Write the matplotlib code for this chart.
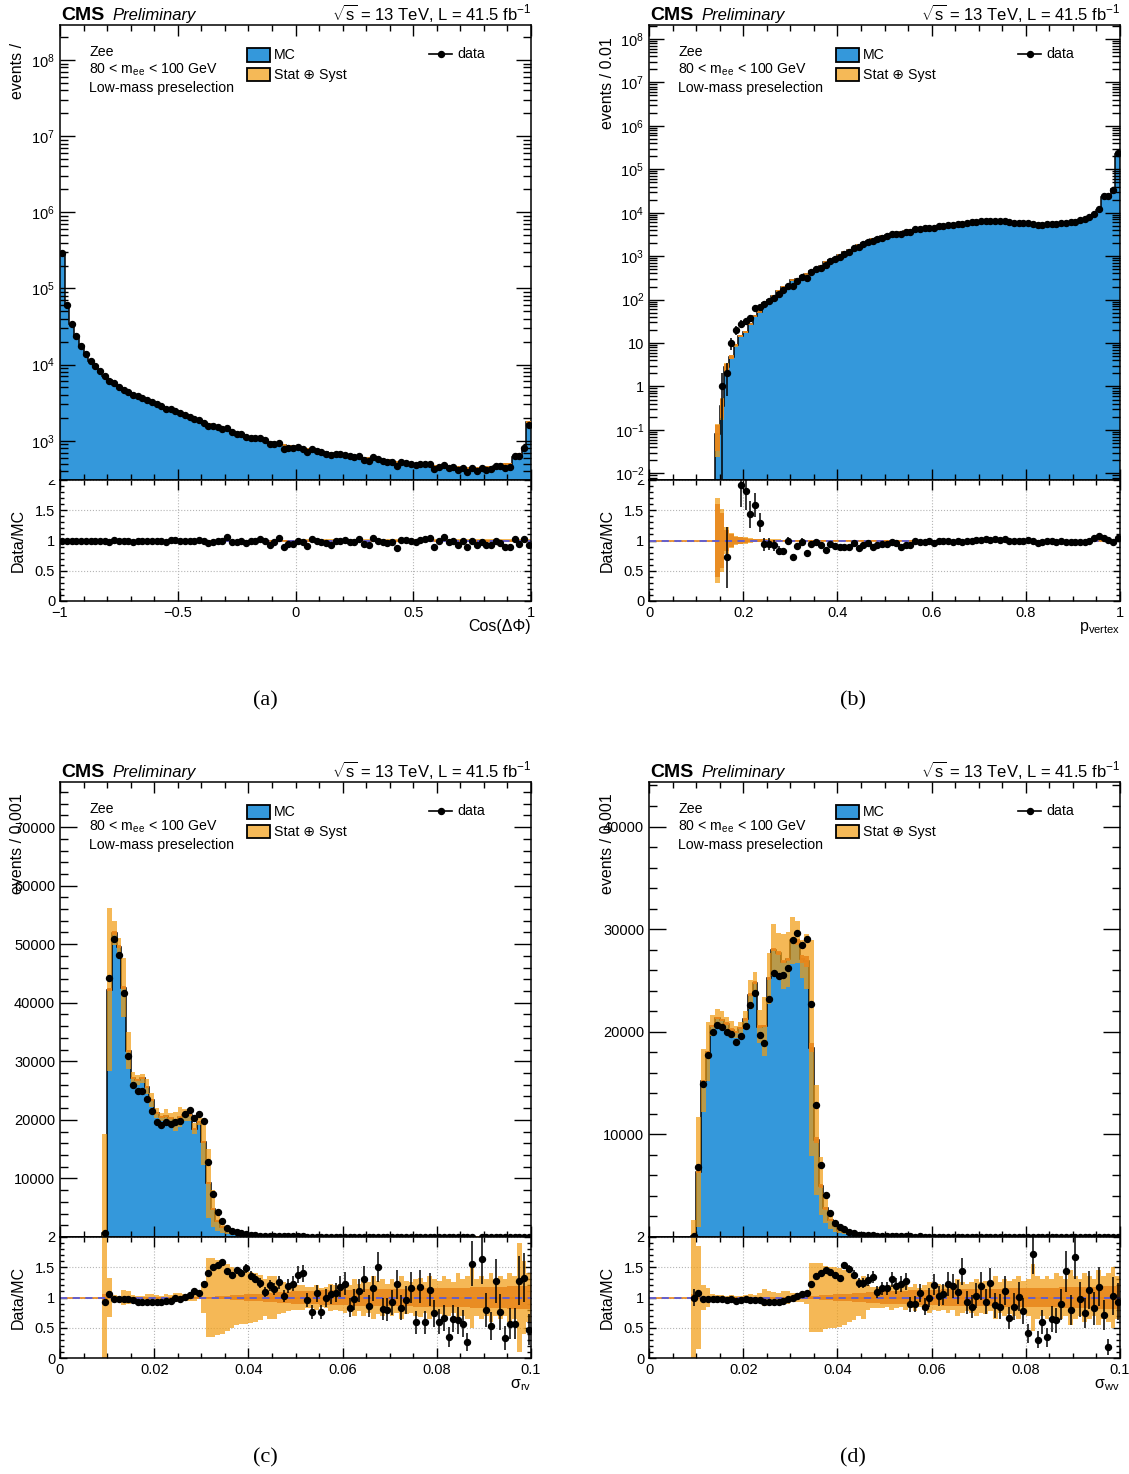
import numpy as np
import matplotlib
matplotlib.use("Agg")
import matplotlib.pyplot as plt
from matplotlib import ticker
from matplotlib.patches import Rectangle
from matplotlib.transforms import Bbox, TransformedBbox

plt.rcParams['font.family'] = ['Liberation Sans', 'DejaVu Sans']
plt.rcParams['mathtext.fontset'] = 'custom'
plt.rcParams['mathtext.rm'] = 'Liberation Sans'
plt.rcParams['mathtext.it'] = 'Liberation Sans:italic'
plt.rcParams['mathtext.bf'] = 'Liberation Sans:bold'
plt.rcParams['axes.linewidth'] = 1.1

BLUE = '#3498db'
BAND = '#f19b0f'
STAT = '#e8861a'
LEG_BAND = '#f5b957'

W, H = 1129, 1474

# ---------------- (a) Cos(dPhi), 100 bins in [-1, 1]
edges_a = np.linspace(-1, 1, 101)
mc_a = [295000, 61000, 34500, 24000, 17500, 13800, 11300, 9500, 8200, 7100,
        6200, 5600, 5100, 4700, 4400, 4150, 3900, 3650, 3450, 3230,
        3030, 2880, 2730, 2550, 2420, 2280, 2180, 2060, 1950, 1830,
        1720, 1650, 1590, 1520, 1450, 1380, 1320, 1260, 1210, 1160,
        1110, 1080, 1050, 1010, 970, 940, 910, 880, 860, 840,
        820, 800, 780, 760, 740, 720, 705, 690, 675, 662,
        650, 638, 625, 612, 600, 590, 580, 570, 560, 550,
        540, 530, 520, 510, 500, 492, 485, 478, 472, 466,
        460, 455, 450, 447, 445, 443, 441, 440, 440, 442,
        448, 458, 470, 482, 492, 500, 610, 660, 790, 1750]
ratio_a = [1.0, 1.0, 1.0, 1.0, 0.99, 0.99, 1.0, 1.0, 0.99, 1.0,
           0.98, 1.01, 1.0, 1.0, 0.99, 0.97, 1.0, 1.0, 0.99, 1.0,
           0.99, 1.0, 0.97, 1.01, 1.01, 1.0, 1.0, 1.0, 0.99, 1.01,
           1.0, 0.96, 0.97, 1.0, 0.99, 1.06, 0.98, 0.97, 1.0, 0.96,
           0.99, 1.0, 1.02, 1.0, 0.93, 0.97, 1.04, 0.89, 0.94, 0.95,
           1.0, 0.98, 0.91, 1.02, 1.0, 0.98, 0.96, 0.93, 0.99, 1.0,
           1.01, 0.98, 0.98, 1.03, 0.94, 0.92, 1.04, 1.0, 0.97, 0.96,
           0.97, 0.88, 1.01, 1.01, 1.0, 0.97, 1.01, 1.03, 1.04, 0.9,
           0.99, 1.06, 0.98, 1.0, 0.93, 0.99, 0.89, 0.99, 0.92, 0.98,
           0.92, 0.92, 1.0, 0.96, 0.9, 0.9, 1.03, 0.94, 1.03, 0.93]
# band widths read per group of ten bins
band_a = np.repeat([0.006, 0.008, 0.01, 0.012, 0.015, 0.018, 0.02, 0.022, 0.025, 0.028], 10)
stat_a = np.repeat([0.003, 0.004, 0.005, 0.006, 0.008, 0.009, 0.01, 0.011, 0.012, 0.014], 10)

# ---------------- (b) p_vertex, 100 bins in [0, 1]
edges_b = np.linspace(0, 1, 101)
mc_b = [0, 0, 0, 0, 0, 0, 0, 0, 0, 0,
        0, 0, 0, 0, 0.08, 0.35, 2.8, 4.8, 8.9, 14.5,
        17.6, 27, 41, 52, 82, 97, 118, 159, 200, 205,
        278, 297, 340, 389, 460, 517, 592, 724, 808, 928,
        1070, 1220, 1400, 1580, 1800, 2000, 2200, 2450, 2650, 2850,
        3050, 3250, 3450, 3650, 3850, 4000, 4150, 4300, 4450, 4600,
        4750, 4900, 5100, 5300, 5450, 5600, 5750, 5900, 6050, 6200,
        6300, 6400, 6450, 6400, 6300, 6200, 6100, 6000, 5850, 5700,
        5600, 5500, 5400, 5400, 5450, 5550, 5700, 5850, 6000, 6200,
        6400, 6800, 7300, 7900, 8800, 11500, 23000, 24000, 35000, 230000]
nan = np.nan
ratio_b = [nan, nan, nan, nan, nan, nan, nan, nan, nan, nan,
           nan, nan, nan, nan, nan, 2.9, 0.72, 2.1, 2.25, 1.92,
           1.82, 1.43, 1.59, 1.29, 0.94, 0.94, 0.92, 0.83, 0.82, 0.99,
           0.73, 0.91, 0.98, 0.79, 0.94, 0.98, 0.92, 0.85, 0.94, 0.91,
           0.89, 0.9, 0.9, 0.96, 0.88, 0.93, 0.96, 0.9, 0.92, 0.94,
           0.94, 0.97, 0.96, 0.9, 0.93, 0.92, 0.99, 0.98, 0.98, 0.99,
           0.96, 0.99, 0.99, 0.99, 0.98, 0.99, 0.97, 1.0, 1.0, 1.01,
           1.01, 1.02, 1.01, 1.02, 1.01, 1.03, 1.0, 0.99, 0.99, 1.0,
           1.01, 0.99, 0.96, 0.98, 0.99, 0.99, 0.98, 0.99, 0.97, 0.98,
           0.98, 0.98, 0.97, 0.99, 1.04, 1.07, 1.04, 1.01, 0.97, 1.04]
band_b = [0, 0, 0, 0, 0, 0, 0, 0, 0, 0,
          0, 0, 0, 0, 0.7, 0.52, 0.22, 0.12, 0.08, 0.065,
          0.055, 0.04, 0.033, 0.028, 0.025, 0.022, 0.02, 0.018, 0.016, 0.015,
          0.014, 0.014, 0.013, 0.013, 0.013, 0.012, 0.012, 0.012, 0.012, 0.011,
          0.011, 0.011, 0.011, 0.011, 0.011, 0.01, 0.01, 0.01, 0.01, 0.01,
          0.01, 0.01, 0.01, 0.01, 0.01, 0.01, 0.01, 0.01, 0.01, 0.01,
          0.01, 0.01, 0.01, 0.01, 0.01, 0.01, 0.01, 0.01, 0.01, 0.01,
          0.01, 0.01, 0.01, 0.01, 0.01, 0.01, 0.01, 0.01, 0.01, 0.01,
          0.01, 0.01, 0.01, 0.01, 0.01, 0.01, 0.01, 0.01, 0.01, 0.01,
          0.01, 0.01, 0.01, 0.01, 0.01, 0.01, 0.01, 0.01, 0.01, 0.01]
stat_b = [0, 0, 0, 0, 0, 0, 0, 0, 0, 0,
          0, 0, 0, 0, 0.6, 0.45, 0.18, 0.1, 0.06, 0.05,
          0.04, 0.03, 0.025, 0.02, 0.018, 0.016, 0.014, 0.012, 0.011, 0.01,
          0.009, 0.009, 0.008, 0.008, 0.008, 0.008, 0.007, 0.007, 0.007, 0.007,
          0.006, 0.006, 0.006, 0.006, 0.006, 0.006, 0.006, 0.006, 0.006, 0.006,
          0.005, 0.005, 0.005, 0.005, 0.005, 0.005, 0.005, 0.005, 0.005, 0.005,
          0.005, 0.005, 0.005, 0.005, 0.005, 0.005, 0.005, 0.005, 0.005, 0.005,
          0.005, 0.005, 0.005, 0.005, 0.005, 0.005, 0.005, 0.005, 0.005, 0.005,
          0.005, 0.005, 0.005, 0.005, 0.005, 0.005, 0.005, 0.005, 0.005, 0.005,
          0.005, 0.005, 0.005, 0.005, 0.005, 0.005, 0.005, 0.005, 0.005, 0.005]

# ---------------- (c) sigma_rv, 100 bins in [0, 0.1]
edges_c = np.linspace(0, 0.1, 101)
mc_c = [0, 0, 0, 0, 0, 0, 0, 0, 0, 650,
        42200, 51900, 49600, 42600, 31800, 27100, 26800, 27100, 25700, 23400,
        21100, 20500, 20600, 20300, 19700, 20500, 20800, 20800, 18500, 19700,
        16300, 9150, 4830, 2780, 1670, 1125, 730, 530, 425, 325,
        260, 220, 190, 165, 145, 130, 115, 105, 95, 85,
        77, 70, 64, 58, 54, 50, 47, 44, 41, 38,
        36, 34, 32, 30, 28, 27, 26, 25, 24, 23,
        22, 21, 20, 19, 18, 17, 16.5, 16, 15.5, 15,
        14.5, 14, 13.5, 13, 12.5, 12, 11.5, 11, 10.5, 10,
        10, 9.5, 9.5, 9, 9, 8.5, 8.5, 8, 8, 7.5]
ratio_c = [nan, nan, nan, nan, nan, nan, nan, nan, nan, 0.93,
           1.05, 0.98, 0.97, 0.98, 0.97, 0.96, 0.93, 0.92, 0.92, 0.92,
           0.93, 0.93, 0.95, 0.95, 1.0, 0.97, 1.01, 1.04, 1.1, 1.07,
           1.22, 1.4, 1.51, 1.53, 1.59, 1.44, 1.37, 1.45, 1.41, 1.48,
           1.36, 1.31, 1.24, 1.09, 1.2, 1.14, 1.25, 1.03, 1.19, 1.23,
           1.38, 1.4, 0.96, 0.76, 1.07, 0.76, 0.99, 1.05, 1.08, 1.18,
           1.23, 0.83, 0.97, 1.11, 1.3, 0.86, 1.15, 1.5, 0.81, 0.8,
           0.92, 1.22, 0.83, 0.96, 1.16, 0.59, 1.18, 0.59, 1.13, 0.74,
           0.6, 0.66, 0.35, 0.65, 0.62, 0.57, 0.26, 1.56, nan, 1.63,
           0.79, 0.53, 1.27, 0.76, 0.33, 0.57, 0.57, 1.28, 1.33, 0.47]
band_c = [0, 0, 0, 0, 0, 0, 0, 0, 0, 26,
          0.33, 0.04, 0.03, 0.12, 0.1, 0.04, 0.03, 0.03, 0.05, 0.05,
          0.04, 0.03, 0.06, 0.04, 0.08, 0.08, 0.05, 0.05, 0.05, 0.03,
          0.25, 0.65, 0.65, 0.62, 0.6, 0.55, 0.5, 0.46, 0.44, 0.43,
          0.42, 0.4, 0.38, 0.3, 0.36, 0.36, 0.28, 0.25, 0.22, 0.2,
          0.2, 0.2, 0.18, 0.18, 0.2, 0.15, 0.18, 0.22, 0.2, 0.22,
          0.25, 0.2, 0.3, 0.22, 0.3, 0.25, 0.35, 0.28, 0.3, 0.22,
          0.3, 0.25, 0.35, 0.28, 0.25, 0.3, 0.32, 0.25, 0.35, 0.3,
          0.28, 0.35, 0.3, 0.25, 0.4, 0.3, 0.35, 0.5, 0.3, 0.35,
          0.3, 0.4, 0.3, 0.35, 0.3, 0.4, 0.35, 0.9, 0.6, 0.4]
stat_c = [0, 0, 0, 0, 0, 0, 0, 0, 0, 0.05,
          0.006, 0.006, 0.006, 0.006, 0.006, 0.006, 0.006, 0.006, 0.006, 0.006,
          0.006, 0.006, 0.006, 0.006, 0.006, 0.006, 0.006, 0.006, 0.006, 0.006,
          0.008, 0.01, 0.015, 0.02, 0.025, 0.03, 0.035, 0.04, 0.045, 0.05,
          0.055, 0.06, 0.065, 0.07, 0.075, 0.08, 0.085, 0.09, 0.095, 0.1,
          0.1, 0.105, 0.11, 0.11, 0.115, 0.12, 0.12, 0.125, 0.125, 0.13,
          0.13, 0.13, 0.135, 0.135, 0.135, 0.14, 0.14, 0.14, 0.14, 0.14,
          0.14, 0.145, 0.145, 0.145, 0.145, 0.15, 0.15, 0.15, 0.15, 0.15,
          0.155, 0.155, 0.16, 0.16, 0.16, 0.165, 0.165, 0.17, 0.17, 0.17,
          0.175, 0.175, 0.18, 0.18, 0.18, 0.185, 0.185, 0.19, 0.19, 0.19]

# ---------------- (d) sigma_wv, 100 bins in [0, 0.1]
edges_d = np.linspace(0, 0.1, 101)
mc_d = [0, 0, 0, 0, 0, 0, 0, 0, 0, 50,
        6300, 15250, 18060, 20570, 21340, 21130, 20780, 20200, 20000, 20360,
        21200, 23600, 24800, 20500, 20540, 25200, 28000, 27660, 26840, 27060,
        28900, 28740, 27090, 26850, 18460, 9430, 4950, 2790, 1640, 1030,
        720, 480, 320, 270, 195, 170, 150, 135, 122, 110,
        95, 85, 77, 70, 64, 58, 53, 49, 45, 42,
        39, 36, 34, 32, 30, 28, 27, 26, 25, 24,
        23, 22, 21, 20, 19.5, 19, 18.5, 18, 17.5, 17,
        16.5, 16, 15.5, 15, 14.5, 14, 14, 13.5, 13, 13,
        12.5, 12, 12, 11.5, 11.5, 11, 11, 10.5, 10.5, 10]
ratio_d = [nan, nan, nan, nan, nan, nan, nan, nan, nan, 1.0,
           1.08, 0.98, 0.98, 0.97, 0.97, 0.97, 0.96, 0.98, 0.95, 0.96,
           0.97, 0.96, 0.96, 0.96, 0.92, 0.92, 0.92, 0.92, 0.95, 0.97,
           1.0, 1.03, 1.05, 1.08, 1.23, 1.36, 1.41, 1.45, 1.42, 1.37,
           1.33, 1.53, 1.47, 1.38, 1.24, 1.24, 1.29, 1.34, 1.09, 1.15,
           1.15, 1.3, 1.19, 1.22, 1.27, 0.89, 0.89, 1.07, 0.85, 1.0,
           1.21, 1.02, 1.05, 1.22, 1.19, 1.09, 1.43, 0.92, 0.85, 1.03,
           1.19, 0.93, 1.24, 0.87, 0.85, 1.11, 0.66, 0.85, 1.01, 0.78,
           0.41, 1.72, 0.3, 0.59, 0.34, 0.64, 0.62, 0.89, 1.43, 0.8,
           1.67, 0.97, 0.75, 1.12, 0.82, 1.18, 0.71, 0.18, 1.02, 0.93]
band_d = [0, 0, 0, 0, 0, 0, 0, 0, 0, 32,
          0.85, 0.2, 0.16, 0.05, 0.04, 0.04, 0.03, 0.04, 0.03, 0.03,
          0.04, 0.06, 0.04, 0.08, 0.14, 0.1, 0.09, 0.07, 0.1, 0.1,
          0.08, 0.07, 0.07, 0.1, 0.57, 0.57, 0.57, 0.52, 0.5, 0.5,
          0.48, 0.45, 0.4, 0.38, 0.3, 0.35, 0.2, 0.18, 0.18, 0.18,
          0.16, 0.2, 0.18, 0.15, 0.2, 0.18, 0.22, 0.15, 0.2, 0.25,
          0.2, 0.22, 0.2, 0.25, 0.2, 0.3, 0.25, 0.22, 0.25, 0.3,
          0.25, 0.28, 0.22, 0.35, 0.25, 0.3, 0.28, 0.3, 0.35, 0.28,
          0.3, 0.55, 0.35, 0.3, 0.35, 0.3, 0.4, 0.35, 0.3, 0.45,
          0.35, 0.3, 0.4, 0.35, 0.3, 0.45, 0.35, 0.4, 0.5, 0.35]
stat_d = stat_c

fig = plt.figure(figsize=(W / 100, H / 100), dpi=100)
fig.patch.set_facecolor('white')


def fmt_g(v, pos):
    return ('%g' % round(v, 6)).replace('-', '\u2212')


def panel(ox, oy, edges, mc, ratio, band, stat, logy, ylim, yticks, ylabels,
          xmaj, xmin, xlab, ytitle, ytop, clip_two, caption, capx, capy):
    mc = np.asarray(mc, float)
    ratio = np.asarray(ratio, float)
    band = np.asarray(band, float)
    stat = np.asarray(stat, float)
    cen = 0.5 * (edges[1:] + edges[:-1])
    data = mc * ratio

    ax = fig.add_axes([ox / W, 1 - (oy + 455) / H, 471 / W, 455 / H])
    axr = fig.add_axes([ox / W, 1 - (oy + 576) / H, 471 / W, 121 / H])
    if logy:
        ax.set_yscale('log')
    base = ylim[0] if logy else 0.0
    m = mc > 0

    # upper panel
    mcp = np.where(m, mc, base)
    ax.stairs(mcp, edges, baseline=base, fill=True, color=BLUE, lw=0, zorder=1)
    ax.stairs(mcp, edges, baseline=None, color='black', lw=1.1, zorder=2)
    hi = np.where(m, mc * (1 + band), base)
    lo = np.where(m, np.maximum(mc * (1 - band), base), base)
    ax.stairs(hi, edges, baseline=lo, fill=True, color=BAND, alpha=0.7, lw=0, zorder=3)
    shi = np.where(m, mc * (1 + stat), base)
    slo = np.where(m, np.maximum(mc * (1 - stat), base), base)
    ax.stairs(shi, edges, baseline=slo, fill=True, color=STAT, alpha=0.9, lw=0, zorder=3)
    ax.hlines(mc[m], edges[:-1][m], edges[1:][m], color=STAT, lw=1.2, zorder=3)
    ok = data > 0
    derr = np.sqrt(data[ok])
    lower = np.minimum(derr, data[ok] * 0.999) if logy else derr
    ax.errorbar(cen[ok], data[ok], yerr=[lower, derr], fmt='o', ms=4.3, color='black',
                elinewidth=1.1, capsize=0, zorder=5)

    # ratio panel
    axr.stairs(np.where(m, 1 + band, 1), edges, baseline=np.where(m, 1 - band, 1),
               fill=True, color=BAND, alpha=0.7, lw=0, zorder=1)
    axr.stairs(np.where(m, 1 + stat, 1), edges, baseline=np.where(m, 1 - stat, 1),
               fill=True, color=STAT, alpha=0.85, lw=0, zorder=1)
    axr.axhline(1, color=STAT, lw=1.2, zorder=2)
    axr.axhline(1, color='#5a5ad8', lw=1.3, ls=(0, (4, 3)), zorder=2)
    rok = ok & (ratio <= 2)
    rerr = np.sqrt(data[rok]) / mc[rok]
    axr.errorbar(cen[rok], ratio[rok], yerr=rerr, fmt='o', ms=4.3, color='black',
                 elinewidth=1.1, capsize=0, zorder=5)

    # axes cosmetics
    ax.set_ylim(*ylim)
    ax.yaxis.set_major_locator(ticker.FixedLocator(yticks))
    ax.yaxis.set_major_formatter(ticker.FixedFormatter(ylabels))
    if logy:
        ax.yaxis.set_minor_locator(ticker.LogLocator(base=10, subs=np.arange(2, 10), numticks=200))
        ylen = 11
    else:
        ax.yaxis.set_minor_locator(ticker.MultipleLocator(2000))
        ylen = 12
    ax.yaxis.set_minor_formatter(ticker.NullFormatter())
    for a in (ax, axr):
        a.set_xlim(edges[0], edges[-1])
        a.xaxis.set_major_locator(ticker.MultipleLocator(xmaj))
        a.xaxis.set_minor_locator(ticker.MultipleLocator(xmin))
        a.tick_params(which='both', direction='in', top=True, right=True,
                      labelsize=10.5, width=1, pad=3.5)
    ax.tick_params(labelbottom=False)
    ax.tick_params(axis='x', which='major', length=8)
    ax.tick_params(axis='x', which='minor', length=4)
    ax.tick_params(axis='y', which='major', length=ylen)
    ax.tick_params(axis='y', which='minor', length=5.5)
    axr.set_ylim(0, 2)
    axr.yaxis.set_major_locator(ticker.FixedLocator([0, 0.5, 1, 1.5, 2]))
    axr.yaxis.set_minor_locator(ticker.MultipleLocator(0.1))
    axr.yaxis.set_major_formatter(ticker.FuncFormatter(fmt_g))
    axr.xaxis.set_major_formatter(ticker.FuncFormatter(fmt_g))
    axr.tick_params(axis='x', which='major', length=7)
    axr.tick_params(axis='x', which='minor', length=3.5)
    axr.tick_params(axis='y', which='major', length=5)
    axr.tick_params(axis='y', which='minor', length=3)
    axr.grid(True, which='major', ls=':', lw=0.8, color='#b5b5b5')
    axr.set_axisbelow(True)
    if clip_two:
        cb = TransformedBbox(Bbox([[-0.3, -0.6], [1.2, 1.0]]), axr.transAxes)
        for lab in axr.get_yticklabels():
            lab.set_clip_box(cb)
            lab.set_clip_on(True)

    # legend block
    t = ax.transAxes
    ax.text(0.0616, 0.9413, 'Zee', transform=t, va='center', fontsize=10.2)
    ax.text(0.0616, 0.9026, r'80 < $\mathrm{m_{ee}}$ < 100 GeV', transform=t, va='center', fontsize=10.2)
    ax.text(0.0616, 0.8609, 'Low-mass preselection', transform=t, va='center', fontsize=10.2)
    ax.add_patch(Rectangle((0.3962, 0.9193), 0.0486, 0.0295, transform=t, facecolor=BLUE,
                           edgecolor='black', lw=1.3, clip_on=False, zorder=6))
    ax.add_patch(Rectangle((0.3962, 0.8769), 0.0486, 0.0279, transform=t, facecolor=LEG_BAND,
                           edgecolor='black', lw=1.3, clip_on=False, zorder=6))
    ax.text(0.4544, 0.934, 'MC', transform=t, va='center', fontsize=10.2)
    ax.text(0.4544, 0.8908, 'Stat \u2295 Syst', transform=t, va='center', fontsize=10.2)
    ax.plot([0.7834, 0.8323], [0.9356, 0.9356], transform=t, color='black', lw=1.2, clip_on=False)
    ax.plot([0.8079], [0.9356], 'o', ms=4.3, transform=t, color='black', clip_on=False)
    ax.text(0.8429, 0.9356, 'data', transform=t, va='center', fontsize=10.2)

    # header and titles
    fig.text((ox + 1) / W, 1 - (oy - 5) / H, 'CMS', fontsize=14, fontweight='bold', va='baseline')
    fig.text((ox + 52) / W, 1 - (oy - 5) / H, 'Preliminary', fontsize=12, style='italic', va='baseline')
    fig.text((ox + 471) / W, 1 - (oy - 5) / H,
             r'$\sqrt{\mathrm{s}}$ = 13 TeV, L = 41.5 $\mathrm{fb^{-1}}$',
             fontsize=12, ha='right', va='baseline')
    fig.text((ox - 42) / W, 1 - (oy + ytop) / H, ytitle, rotation=90, ha='center', va='top', fontsize=11.5)
    fig.text((ox - 42) / W, 1 - (oy + 515) / H, 'Data/MC', rotation=90, ha='center', va='center', fontsize=11.5)
    fig.text((ox + 471) / W, 1 - (oy + 606) / H, xlab, ha='right', va='baseline', fontsize=11.5)
    fig.text(capx / W, 1 - capy / H, caption, ha='center', va='center', fontsize=16, family='Liberation Serif')


log_a_ticks = [1e3, 1e4, 1e5, 1e6, 1e7, 1e8]
log_a_labels = [r'$\mathrm{10^{3}}$', r'$\mathrm{10^{4}}$', r'$\mathrm{10^{5}}$',
                r'$\mathrm{10^{6}}$', r'$\mathrm{10^{7}}$', r'$\mathrm{10^{8}}$']
log_b_ticks = [1e-2, 1e-1, 1, 10, 1e2, 1e3, 1e4, 1e5, 1e6, 1e7, 1e8]
log_b_labels = [r'$\mathrm{10^{-2}}$', r'$\mathrm{10^{-1}}$', '1', '10', r'$\mathrm{10^{2}}$',
                r'$\mathrm{10^{3}}$', r'$\mathrm{10^{4}}$', r'$\mathrm{10^{5}}$',
                r'$\mathrm{10^{6}}$', r'$\mathrm{10^{7}}$', r'$\mathrm{10^{8}}$']
lin_c_ticks = [10000, 20000, 30000, 40000, 50000, 60000, 70000]
lin_d_ticks = [10000, 20000, 30000, 40000]

panel(60, 25, edges_a, mc_a, ratio_a, band_a, stat_a, True, (10 ** 2.484, 10 ** 8.46),
      log_a_ticks, log_a_labels, 0.5, 0.1, 'Cos(\u0394\u03a6)', 'events /', 18, True, '(a)', 265, 701)
panel(649, 25, edges_b, mc_b, ratio_b, band_b, stat_b, True, (10 ** -2.154, 10 ** 8.322),
      log_b_ticks, log_b_labels, 0.2, 0.05, r'$\mathrm{p_{vertex}}$', 'events / 0.01', 12, True, '(b)', 853, 701)
panel(60, 782, edges_c, mc_c, ratio_c, band_c, stat_c, False, (0, 77700),
      lin_c_ticks, [str(v) for v in lin_c_ticks], 0.02, 0.005, r'$\mathrm{\sigma_{rv}}$',
      'events / 0.001', 11, False, '(c)', 265, 1458)
panel(649, 782, edges_d, mc_d, ratio_d, band_d, stat_d, False, (0, 44340),
      lin_d_ticks, [str(v) for v in lin_d_ticks], 0.02, 0.005, r'$\mathrm{\sigma_{wv}}$',
      'events / 0.001', 11, False, '(d)', 853, 1458)

fig.savefig('out.png', dpi=100)
